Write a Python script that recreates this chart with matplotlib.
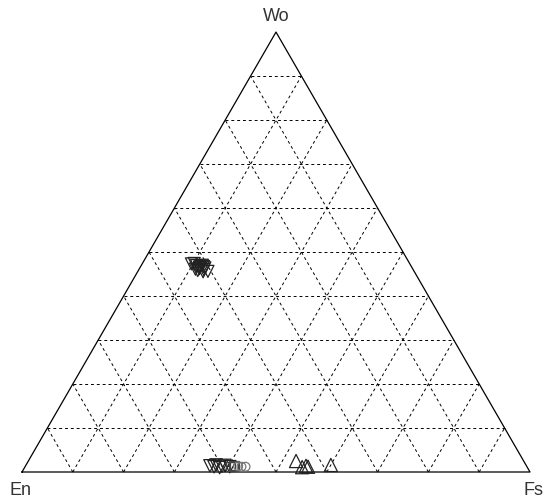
import numpy as np
import matplotlib.pyplot as plt

# pyroxene compositions, mol% (En, Wo, Fs)
cpx_en = [41.5, 42.0, 41.0, 42.5, 41.8, 41.2, 42.2, 40.8, 43.0, 40.6, 42.4, 41.6, 40.9, 42.8]
cpx_wo = [46.8, 46.2, 47.0, 45.8, 46.5, 46.0, 46.9, 46.4, 47.3, 45.6, 47.4, 45.5, 46.7, 46.1]
cpx_fs = [11.7, 11.8, 12.0, 11.7, 11.7, 12.8, 10.9, 12.8, 9.7, 13.8, 10.2, 12.9, 12.4, 11.1]

opx_en = [62.3, 61.0, 60.0, 59.3, 58.5, 60.6, 61.6]
opx_wo = [1.4, 1.6, 1.3, 1.5, 1.2, 1.0, 1.2]
opx_fs = [36.3, 37.4, 38.7, 39.2, 40.3, 38.4, 37.2]

sq_en = [58.3, 57.8, 57.4]
sq_wo = [1.3, 1.2, 1.4]
sq_fs = [40.4, 41.0, 41.2]

ci_en = [56.8, 56.2, 55.4]
ci_wo = [1.3, 1.2, 1.2]
ci_fs = [41.9, 42.6, 43.4]

pig_en = [44.8, 44.3, 43.4, 43.1, 38.4]
pig_wo = [2.5, 1.1, 1.4, 1.2, 1.6]
pig_fs = [52.7, 54.6, 55.2, 55.7, 60.0]


def tern(wo, fs):
    wo = np.asarray(wo, float)
    fs = np.asarray(fs, float)
    return fs + wo / 2, wo * np.sqrt(3) / 2


fig = plt.figure(figsize=(5.43, 5.0), dpi=100)
ax = fig.add_axes([0, 0, 1, 1])
s = 5.08
ax.set_xlim(-22 / s, (543 - 22) / s)
ax.set_ylim((472 - 500) / s, 472 / s)
ax.axis('off')

h = np.sqrt(3) / 2 * 100
ax.plot([0, 100, 50, 0], [0, 0, h, 0], color='black', lw=0.9)

# dashed grid every 10%
for k in range(10, 100, 10):
    # constant Wo
    x0, y0 = tern(k, 0)
    x1, y1 = tern(k, 100 - k)
    ax.plot([x0, x1], [y0, y1], ls=(0, (3, 3)), color='black', lw=0.7)
    # constant Fs
    x0, y0 = tern(0, k)
    x1, y1 = tern(100 - k, k)
    ax.plot([x0, x1], [y0, y1], ls=(0, (3, 3)), color='black', lw=0.7)
    # constant En
    x0, y0 = tern(0, 100 - k)
    x1, y1 = tern(100 - k, 0)
    ax.plot([x0, x1], [y0, y1], ls=(0, (3, 3)), color='black', lw=0.7)

mk = dict(facecolors='none', linewidths=0.9, zorder=3)
x, y = tern(cpx_wo, cpx_fs)
ax.scatter(x, y, marker='v', s=75, edgecolors='#222222', **mk)
x, y = tern(opx_wo, opx_fs)
ax.scatter(x, y, marker='v', s=80, edgecolors='#222222', **mk)
x, y = tern(sq_wo, sq_fs)
ax.scatter(x, y, marker='s', s=40, edgecolors='#444444', **mk)
x, y = tern(ci_wo, ci_fs)
ax.scatter(x, y, marker='o', s=40, edgecolors='#777777', **mk)
x, y = tern(pig_wo, pig_fs)
ax.scatter(x, y, marker='^', s=90, edgecolors='#222222', **mk)

lab = dict(ha='center', va='center', fontsize=13, color='#333333',
           family='Liberation Sans')
ax.text(-0.2, -3.6, 'En', **lab)
ax.text(100.6, -3.6, 'Fs', **lab)
ax.text(50, h + 3.0, 'Wo', **lab)

fig.savefig('out.png', dpi=100)
